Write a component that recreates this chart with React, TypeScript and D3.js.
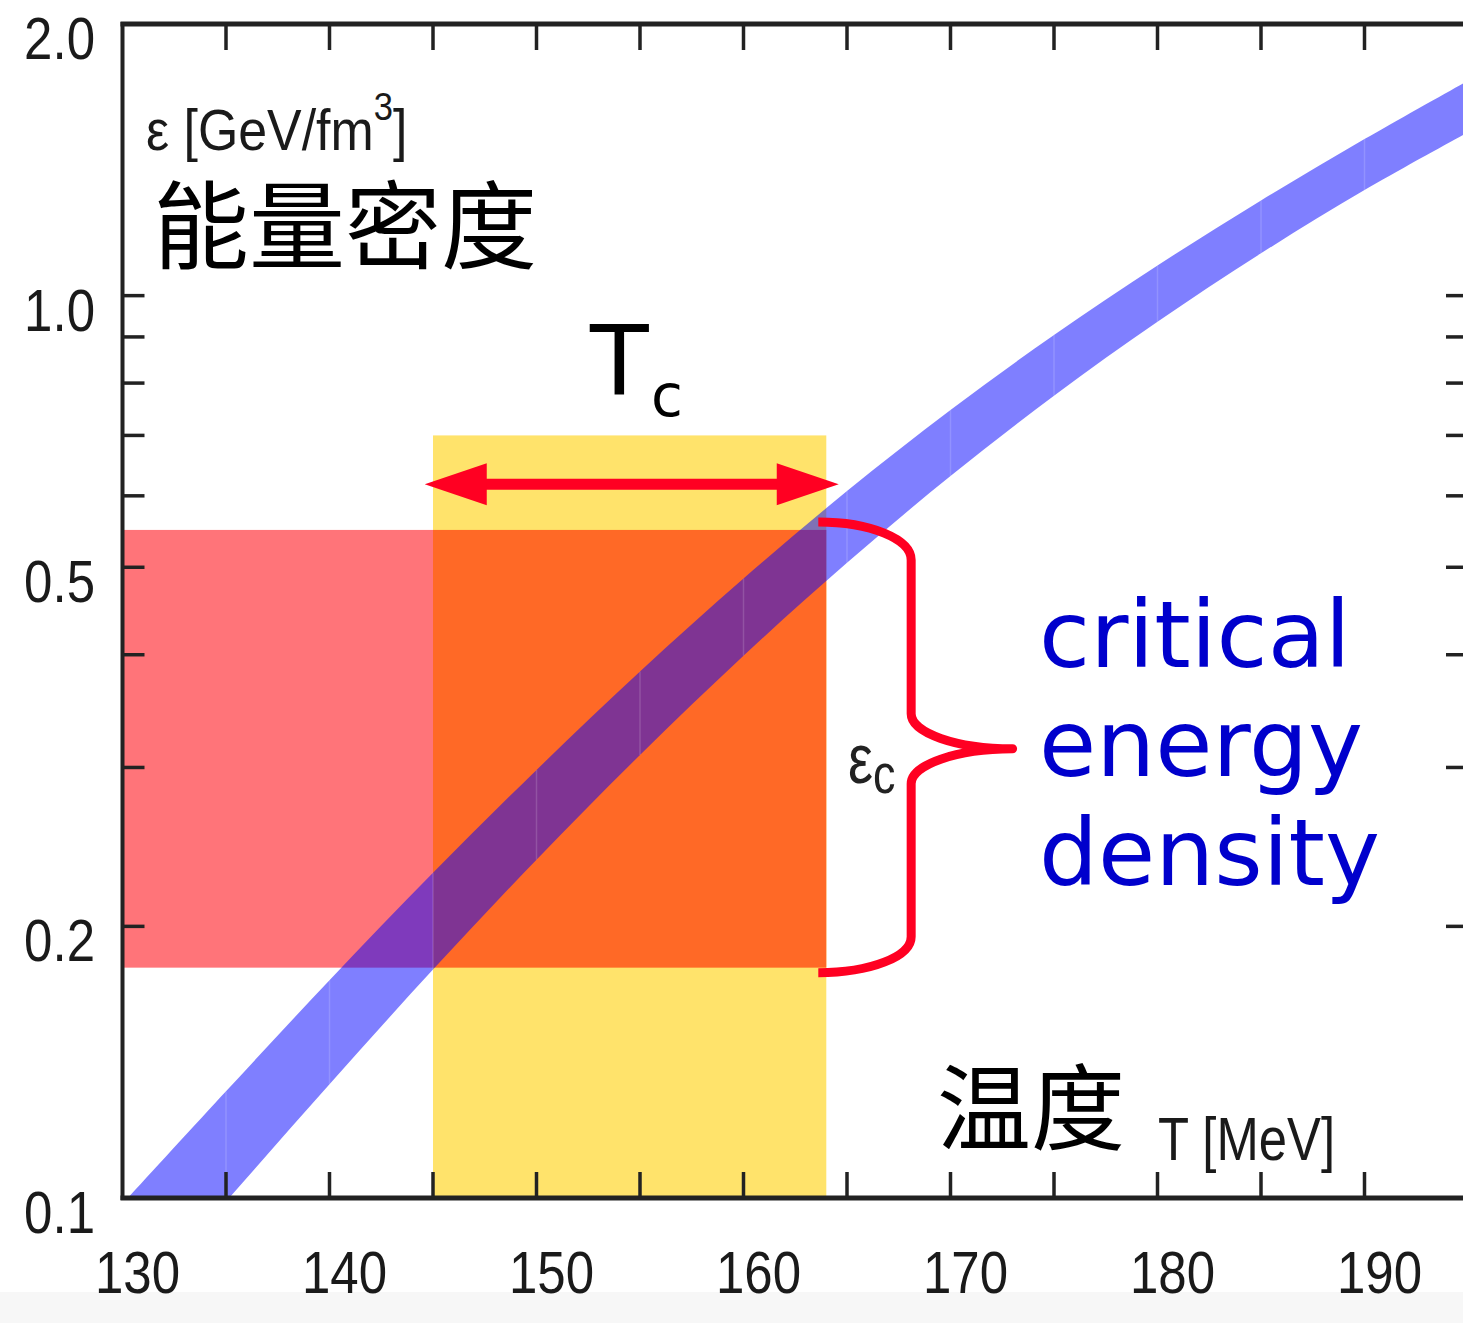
import * as d3 from "d3";

// lattice QCD energy density band (upper / lower edge), T in MeV, eps in GeV/fm^3
const temps = [130, 135, 140, 145, 150, 155, 160, 165, 170, 175, 180, 185, 190, 195];
const epsUpper = [0.0985, 0.1313, 0.1743, 0.2293, 0.2981, 0.3832, 0.4858, 0.6073, 0.7469, 0.9046, 1.08, 1.275, 1.491, 1.731];
const epsLower = [0.0733, 0.0991, 0.1337, 0.1791, 0.2371, 0.3097, 0.399, 0.5058, 0.631, 0.7745, 0.9354, 1.114, 1.309, 1.517];

// critical region
const tcRange = [145, 164];
const tcBoxTop = 0.7;
const epsCRange = [0.18, 0.55];
const arrowT = [144.6, 164.6];
const arrowEps = 0.618;

const xTickLabels = [130, 140, 150, 160, 170, 180, 190];
const xTickMarks = [135, 140, 145, 150, 155, 160, 165, 170, 175, 180, 185, 190];
const yTickLabels = ["0.1", "0.2", "0.5", "1.0", "2.0"];
const yTickMarks = [0.2, 0.3, 0.4, 0.5, 0.6, 0.7, 0.8, 0.9, 1.0];

const W = 1463;
const H = 1323;
const left = 122.5;
const right = 1468;
const top = 24;
const bottom = 1198;

const axisFont = "'Liberation Sans', Arial, sans-serif";
const labelFont = "'DejaVu Sans', Verdana, sans-serif";
const cjkFont = "'Noto Sans CJK SC', 'Noto Sans CJK JP', sans-serif";

export default function App() {
  const x = d3.scaleLinear().domain([130, 195]).range([left, right]);
  const y = d3.scaleLog().domain([0.1, 2.0]).range([bottom, top]);

  const bandData = temps.map((t, i) => ({ t, hi: epsUpper[i], lo: epsLower[i] }));
  const band = d3
    .area<{ t: number; hi: number; lo: number }>()
    .x((d) => x(d.t))
    .y0((d) => y(d.lo))
    .y1((d) => y(d.hi))
    .curve(d3.curveCatmullRom.alpha(0.5));

  // arrow
  const ay = y(arrowEps);
  const ax0 = x(arrowT[0]);
  const ax1 = x(arrowT[1]);
  const headL = 62;
  const headW = 21;

  // brace
  const bx0 = x(tcRange[1]) - 8;
  const bxv = x(168.1);
  const bxt = x(173);
  const byt = y(epsCRange[1]) - 8;
  const byb = y(epsCRange[0]) + 5;
  const bym = y(Math.sqrt(epsCRange[0] * epsCRange[1]));
  const bracePath = [
    `M${bx0},${byt}`,
    `C${bx0 + 52},${byt} ${bxv},${byt + 17} ${bxv},${byt + 38}`,
    `L${bxv},${bym - 35}`,
    `C${bxv},${bym - 16} ${bxv + 45},${bym} ${bxt},${bym}`,
    `C${bxv + 45},${bym} ${bxv},${bym + 16} ${bxv},${bym + 35}`,
    `L${bxv},${byb - 36}`,
    `C${bxv},${byb - 16} ${bx0 + 52},${byb} ${bx0},${byb}`,
  ].join(" ");

  return (
    <div style={{ position: "absolute", left: 0, top: 0 }}>
      <svg width={W} height={H} style={{ display: "block", background: "#fff" }}>
        <defs>
          <clipPath id="plot">
            <rect x={left} y={top} width={right - left} height={bottom - top} />
          </clipPath>
        </defs>
        <rect x={0} y={1292} width={W} height={H - 1292} fill="#f7f7f7" />

        {/* Tc window and critical energy density window */}
        <rect x={x(tcRange[0])} y={y(tcBoxTop)} width={x(tcRange[1]) - x(tcRange[0])} height={bottom - y(tcBoxTop)} fill="#ffe36b" />
        <rect x={left} y={y(epsCRange[1])} width={x(tcRange[0]) - left} height={y(epsCRange[0]) - y(epsCRange[1])} fill="#ff7479" />
        <rect x={x(tcRange[0])} y={y(epsCRange[1])} width={x(tcRange[1]) - x(tcRange[0])} height={y(epsCRange[0]) - y(epsCRange[1])} fill="#ff6926" />

        {/* band */}
        <g clipPath="url(#plot)">
          <path d={band(bandData) || ""} fill="#0000ff" fillOpacity={0.5} />
          {bandData.map((d) => (
            <line key={d.t} x1={x(d.t)} x2={x(d.t)} y1={y(d.lo)} y2={y(d.hi)} stroke="#fff" strokeOpacity={0.15} strokeWidth={1.5} />
          ))}
        </g>

        {/* axes */}
        <g stroke="#222">
          <line x1={left} x2={left} y1={top - 2} y2={bottom + 2} strokeWidth={4} />
          <line x1={left - 2} x2={right} y1={top} y2={top} strokeWidth={5} />
          <line x1={left - 2} x2={right} y1={bottom} y2={bottom} strokeWidth={5} />
          <line x1={right} x2={right} y1={top} y2={bottom} strokeWidth={4} />
          {xTickMarks.map((t) => (
            <g key={t}>
              <line x1={x(t)} x2={x(t)} y1={top} y2={top + 26} strokeWidth={3.5} />
              <line x1={x(t)} x2={x(t)} y1={bottom} y2={bottom - 26} strokeWidth={3.5} />
            </g>
          ))}
          {yTickMarks.map((v) => (
            <g key={v}>
              <line x1={left} x2={left + 22} y1={y(v)} y2={y(v)} strokeWidth={3.5} />
              <line x1={right} x2={right - 22} y1={y(v)} y2={y(v)} strokeWidth={3.5} />
            </g>
          ))}
        </g>

        {/* tick labels */}
        <g fill="#1a1a1a" fontFamily={axisFont} fontSize={60}>
          {xTickLabels.map((t) => (
            <text key={t} transform={`translate(${x(t) + 15},${1293}) scale(0.85,1)`} textAnchor="middle">
              {t}
            </text>
          ))}
          {yTickLabels.map((v) => (
            <text key={v} transform={`translate(${95},${y(+v) + 35}) scale(0.85,1)`} textAnchor="end">
              {v}
            </text>
          ))}
        </g>

        {/* axis titles */}
        <text transform="translate(146,150) scale(0.91,1)" fontFamily={axisFont} fontSize={57} fill="#1a1a1a">
          ε [GeV/fm<tspan dy={-30} fontSize={38}>3</tspan>
          <tspan dy={30}>]</tspan>
        </text>
        <text x={153} y={261} fontFamily={cjkFont} fontSize={96} fill="#000">
          能量密度
        </text>
        <text x={937} y={1143} fontFamily={cjkFont} fontSize={94} fill="#000">
          温度
        </text>
        <text transform="translate(1158,1160) scale(0.82,1)" fontFamily={axisFont} fontSize={62} fill="#1a1a1a">
          T [MeV]
        </text>

        {/* Tc arrow */}
        <g fill="#ff0022">
          <rect x={ax0 + headL - 2} y={ay - 5.5} width={ax1 - ax0 - 2 * headL + 4} height={11} />
          <path d={`M${ax0},${ay} L${ax0 + headL},${ay - headW} L${ax0 + headL},${ay + headW} Z`} />
          <path d={`M${ax1},${ay} L${ax1 - headL},${ay - headW} L${ax1 - headL},${ay + headW} Z`} />
        </g>
        <text x={590} y={394} fontFamily={labelFont} fontSize={96} fill="#000">
          T
        </text>
        <text x={651} y={416} fontFamily={labelFont} fontSize={58} fill="#000">
          c
        </text>

        {/* eps_c brace */}
        <path d={bracePath} fill="none" stroke="#ff0022" strokeWidth={9} strokeLinejoin="round" />
        <text transform="translate(848,783) scale(0.8,1)" fontFamily={axisFont} fontSize={70} fill="#222">
          ε
        </text>
        <text transform="translate(873,793) scale(0.8,1)" fontFamily={axisFont} fontSize={56} fill="#222">
          c
        </text>

        {/* annotation */}
        <g fontFamily={labelFont} fontSize={93} fill="#0000cc">
          <text x={1039} y={667}>critical</text>
          <text x={1039} y={776}>energy</text>
          <text x={1039} y={885}>density</text>
        </g>
      </svg>
    </div>
  );
}
